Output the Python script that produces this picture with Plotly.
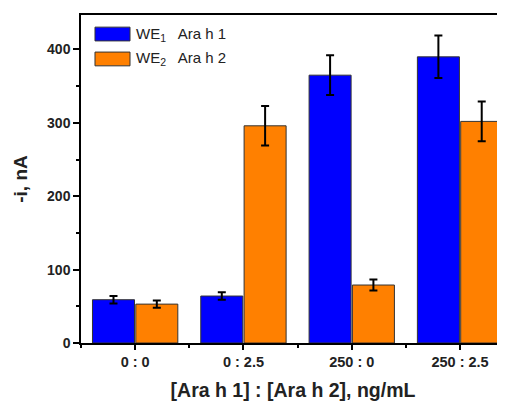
import plotly.graph_objects as go

categories = ["0 : 0", "0 : 2.5", "250 : 0", "250 : 2.5"]
we1_values = [59, 64, 365, 390]
we1_errors = [5, 5, 27, 29]
we2_values = [53, 296, 79, 302]
we2_errors = [5, 27, 7.5, 27]
series_names = ["WE<sub>1</sub>   Ara h 1", "WE<sub>2</sub>   Ara h 2"]
colors = ["#0000FF", "#FF8000"]

xpos = list(range(len(categories)))
FONT = "Liberation Sans, Arial, sans-serif"

fig = go.Figure()
for vals, errs, col, name in [(we1_values, we1_errors, colors[0], series_names[0]),
                              (we2_values, we2_errors, colors[1], series_names[1])]:
    fig.add_trace(go.Bar(
        x=xpos, y=vals, name=name,
        marker=dict(color=col, line=dict(color="#333333", width=1)),
        error_y=dict(type="data", array=errs, color="#000000", thickness=2, width=4),
        showlegend=False,
    ))

# custom legend with large rectangular swatches
for i, (name, col) in enumerate(zip(series_names, colors)):
    y0 = 0.963 - i * 0.076
    fig.add_shape(type="rect", xref="paper", yref="paper",
                  x0=0.033, x1=0.1156, y0=y0 - 0.042, y1=y0,
                  fillcolor=col, line=dict(color="#333333", width=1))
    fig.add_annotation(xref="paper", yref="paper", x=0.125, y=y0 - 0.021,
                       text=name, showarrow=False, xanchor="left", yanchor="middle",
                       font=dict(family=FONT, size=15, color="#222222"))

# the page body adds an 8px offset; size the figure so the plot area lands where the reference has it
fig.update_layout(
    width=497, height=393,
    margin=dict(l=73, r=0, t=7, b=58),
    paper_bgcolor="white", plot_bgcolor="white",
    barmode="group", bargap=0.2, bargroupgap=0.03,
    font=dict(family=FONT, color="#222222"),
)
fig.update_xaxes(
    automargin=False,
    range=[-0.5, 3.415],
    tickmode="array", tickvals=xpos, ticktext=categories,
    tickfont=dict(family=FONT, size=14.5, color="#222222", weight="bold"),
    ticks="outside", ticklen=5, tickwidth=1.5, tickcolor="#000",
    minor=dict(ticks="outside", ticklen=3, tickwidth=1.5, tickcolor="#000", tick0=0.5, dtick=1),
    showline=True, linecolor="#000", linewidth=1.5, mirror=True,
    showgrid=False, zeroline=False,
    title=dict(text="<b>[Ara h 1] : [Ara h 2], ng/mL</b>", standoff=14,
               font=dict(family=FONT, size=19.5, color="#222222")),
)
fig.update_yaxes(
    automargin=False,
    range=[0, 447],
    tickmode="linear", tick0=0, dtick=100,
    tickfont=dict(family=FONT, size=14, color="#222222", weight="bold"),
    ticks="outside", ticklen=6, tickwidth=1.5, tickcolor="#000",
    minor=dict(ticks="outside", ticklen=3, tickwidth=1.5, tickcolor="#000", dtick=50),
    showline=True, linecolor="#000", linewidth=1.5,
    showgrid=False, zeroline=False,
    title=dict(text="<b>-i, nA</b>", standoff=14,
               font=dict(family=FONT, size=19, color="#222222")),
)

fig.write_html("out.html")
